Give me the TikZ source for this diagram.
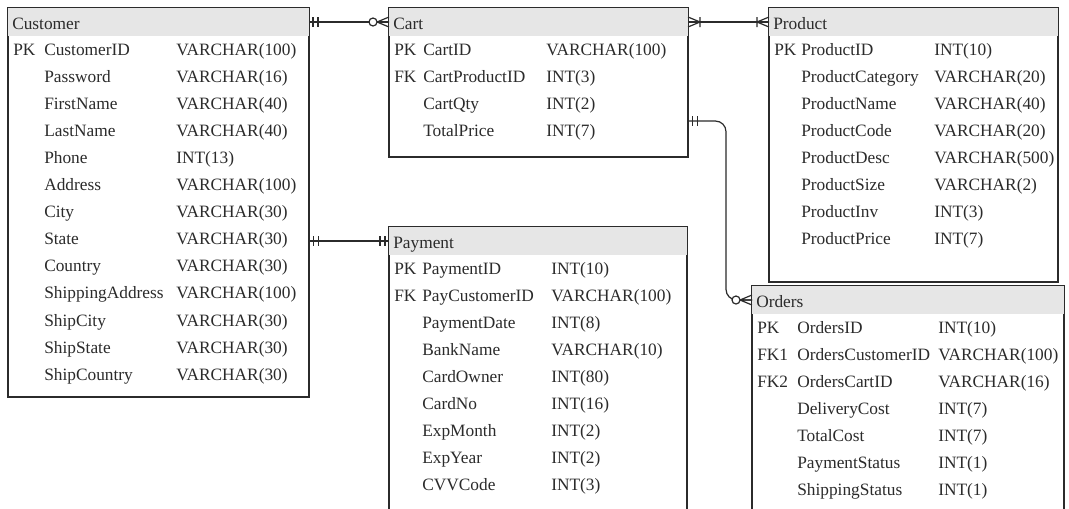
\documentclass[tikz,border=0pt]{standalone}
\usepackage{fontspec}
\setmainfont{Liberation Serif}
\newfontfamily\erfont{Liberation Serif}
\usetikzlibrary{fit,shadows}
\definecolor{hdrgray}{HTML}{E6E6E6}
\definecolor{ink}{HTML}{2B2B2B}
\tikzset{
  tbox/.style={draw=ink, line width=0.9pt, fill=white, inner sep=0pt,
    drop shadow={shadow xshift=1pt, shadow yshift=-1pt, opacity=0.25, fill=black}},
  hdr/.style={fill=hdrgray},
  txt/.style={inner sep=0pt, anchor=base west, text=ink, font=\erfont\fontsize{13}{15}\selectfont},
  conn/.style={draw=ink, line width=0.9pt},
  onemark/.pic={\draw[conn] (4,-5)--(4,5) (9,-5)--(9,5);},
  zeromany/.pic={\draw[conn] (0,-5)--(12,0)--(0,5) (0,0)--(12,0); \draw[conn, fill=white] (16,0) circle (4);},
  onemany/.pic={\draw[conn] (0,-5)--(12,0)--(0,5) (0,0)--(12,0) (12,-5)--(12,5);},
}
% #1 name, #2 left, #3 top, #4 right, #5 bottom, #6 title, #7 name dx, #8 type dx, #9 rows
\newcommand\ertable[9]{%
  \node[tbox, fit={(#2,#3) (#4,#5)}] (#1) {};
  \fill[hdr] (#2,#3) rectangle (#4,#3+28);
  \draw[draw=ink, line width=0.9pt] (#1.north west) rectangle (#1.south east);
  \node[txt] (#1-title) at (#2+4,#3+21) {#6};
  \foreach \k/\n/\t [count=\i from 0] in {#9} {
    \node[txt] (#1-k\i) at (#2+5,#3+47+27.1*\i) {\k};
    \node[txt] (#1-n\i) at (#2+#7,#3+47+27.1*\i) {\n};
    \node[txt] (#1-t\i) at (#2+#8,#3+47+27.1*\i) {\t};
  }
  \coordinate (#1-hl) at (#2,#3+14);
  \coordinate (#1-hr) at (#4,#3+14);
}
\begin{document}
\begin{tikzpicture}[x=0.75pt,y=-0.75pt]
\path[use as bounding box, clip] (0,0) rectangle (1069,508);
\fill[white] (0,0) rectangle (1069,508);

\ertable{cust}{8}{8}{309}{397}{Customer}{36}{168}{PK/CustomerID/VARCHAR(100), /Password/VARCHAR(16), /FirstName/VARCHAR(40), /LastName/VARCHAR(40), /Phone/INT(13), /Address/VARCHAR(100), /City/VARCHAR(30), /State/VARCHAR(30), /Country/VARCHAR(30), /ShippingAddress/VARCHAR(100), /ShipCity/VARCHAR(30), /ShipState/VARCHAR(30), /ShipCountry/VARCHAR(30)}

\ertable{cart}{389}{8}{688}{157}{Cart}{34}{157}{PK/CartID/VARCHAR(100), FK/CartProductID/INT(3), /CartQty/INT(2), /TotalPrice/INT(7)}

\ertable{prod}{769}{8}{1058}{282}{Product}{32}{165}{PK/ProductID/INT(10), /ProductCategory/VARCHAR(20), /ProductName/VARCHAR(40), /ProductCode/VARCHAR(20), /ProductDesc/VARCHAR(500), /ProductSize/VARCHAR(2), /ProductInv/INT(3), /ProductPrice/INT(7)}

\ertable{pay}{389}{227}{687}{530}{Payment}{33}{162}{PK/PaymentID/INT(10), FK/PayCustomerID/VARCHAR(100), /PaymentDate/INT(8), /BankName/VARCHAR(10), /CardOwner/INT(80), /CardNo/INT(16), /ExpMonth/INT(2), /ExpYear/INT(2), /CVVCode/INT(3)}

\ertable{ord}{752}{286}{1064}{530}{Orders}{45}{186}{PK/OrdersID/INT(10), FK1/OrdersCustomerID/VARCHAR(100), FK2/OrdersCartID/VARCHAR(16), /DeliveryCost/INT(7), /TotalCost/INT(7), /PaymentStatus/INT(1), /ShippingStatus/INT(1)}

% Customer -- Cart
\draw[conn] (cust-hr) -- (cart-hl);
\pic at (cust-hr) {onemark};
\pic[xscale=-1] at (cart-hl) {zeromany};

% Cart -- Product
\draw[conn] (cart-hr) -- (prod-hl);
\pic at (cart-hr) {onemany};
\pic[xscale=-1] at (prod-hl) {onemany};

% Customer -- Payment
\coordinate (cust-p) at (cust.east |- pay-hl);
\draw[conn] (cust-p) -- (pay-hl);
\pic at (cust-p) {onemark};
\pic[xscale=-1] at (pay-hl) {onemark};

% Cart -- Orders
\coordinate (cart-o) at (cart.east |- 0,121);
\coordinate (bend) at (726,0);
\draw[conn, rounded corners=8] (cart-o) -- (cart-o -| bend) -- (bend |- ord-hl) -- (ord-hl);
\pic at (cart-o) {onemark};
\pic[xscale=-1] at (ord-hl) {zeromany};
\end{tikzpicture}
\end{document}
